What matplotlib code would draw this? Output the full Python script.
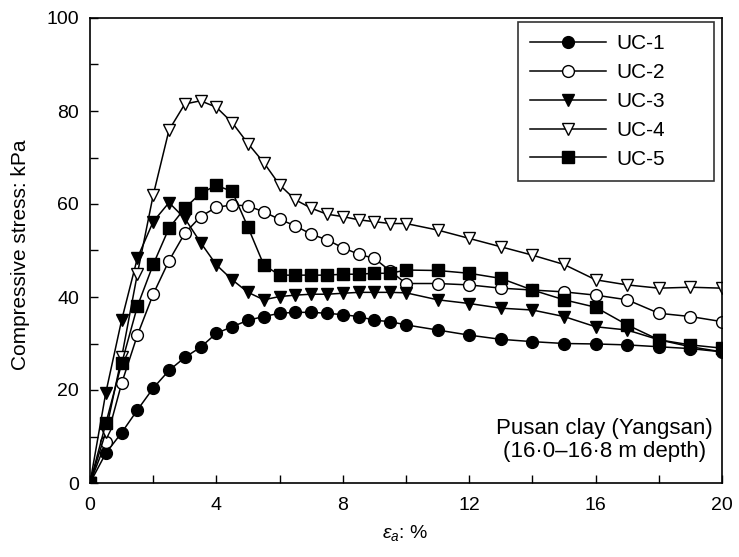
import matplotlib
matplotlib.use("Agg")
import matplotlib.pyplot as plt

plt.rcParams['font.family'] = ['Liberation Sans', 'DejaVu Sans']
plt.rcParams['mathtext.fontset'] = 'custom'
plt.rcParams['mathtext.it'] = 'Liberation Sans:italic'
plt.rcParams['mathtext.rm'] = 'Liberation Sans'

strain_fine = [0, 0.5, 1, 1.5, 2, 2.5, 3, 3.5, 4, 4.5, 5, 5.5, 6, 6.5, 7, 7.5, 8, 8.5, 9, 9.5, 10]
strain_coarse = [11, 12, 13, 14, 15, 16, 17, 18, 19, 20]
strain = strain_fine + strain_coarse

uc1 = [0, 6.4, 10.8, 15.7, 20.4, 24.2, 27.0, 29.2, 32.2, 33.6, 35.0, 35.8, 36.5, 36.7, 36.7, 36.5, 36.2, 35.8, 35.0, 34.7, 34.0,
       32.9, 31.8, 30.9, 30.4, 30.0, 29.9, 29.7, 29.3, 28.9, 28.2]
uc2 = [0, 8.8, 21.4, 31.8, 40.6, 47.8, 53.7, 57.3, 59.3, 59.8, 59.6, 58.3, 56.7, 55.3, 53.5, 52.3, 50.6, 49.2, 48.3, 45.6, 42.9,
       42.9, 42.6, 41.9, 41.5, 41.1, 40.4, 39.4, 36.5, 35.8, 34.7]
uc3 = [0, 19.4, 35.0, 48.4, 56.2, 60.3, 56.9, 51.7, 46.9, 43.7, 41.0, 39.4, 40.1, 40.4, 40.6, 40.6, 40.8, 41.0, 41.0, 41.0, 40.9,
       39.4, 38.6, 37.6, 37.2, 35.8, 33.6, 32.9, 30.8, 29.3, 28.2]
uc4 = [0, 11.0, 27.0, 45.0, 61.9, 75.9, 81.5, 82.2, 80.8, 77.5, 73.0, 68.9, 64.1, 60.9, 59.1, 57.8, 57.3, 56.6, 56.2, 55.8, 55.8,
       54.4, 52.6, 50.8, 49.0, 47.0, 43.7, 42.6, 41.9, 42.1, 41.9]
uc5 = [0, 12.8, 25.7, 38.0, 47.0, 54.8, 59.1, 62.3, 64.0, 62.7, 55.0, 46.9, 44.7, 44.7, 44.7, 44.7, 44.9, 44.9, 45.1, 45.1, 45.8,
       45.7, 45.1, 44.0, 41.5, 39.4, 37.8, 34.0, 30.8, 29.7, 29.0]

labels = ["UC-1", "UC-2", "UC-3", "UC-4", "UC-5"]
series = [uc1, uc2, uc3, uc4, uc5]
markers = ["o", "o", "v", "v", "s"]
faces = ["black", "white", "black", "white", "black"]

fig = plt.figure(figsize=(7.39, 5.57), dpi=100)
ax = fig.add_axes([90/739, (557-483)/557, 632/739, 465/557])

for y, lab, m, fc in zip(series, labels, markers, faces):
    ax.plot(strain, y, color="black", lw=1.1, marker=m, markersize=8.5 if m != "s" else 8,
            markerfacecolor=fc, markeredgecolor="black", markeredgewidth=1.0, label=lab)

ax.set_xlim(0, 20)
ax.set_ylim(0, 100)
ax.set_xticks([0, 4, 8, 12, 16, 20])
ax.set_xticks([2, 6, 10, 14, 18], minor=True)
ax.set_yticks([0, 20, 40, 60, 80, 100])
ax.set_yticks([10, 30, 50, 70, 90], minor=True)
ax.tick_params(which="both", direction="in", labelsize=14, width=1.0)
ax.tick_params(which="major", length=6)
ax.tick_params(which="minor", length=6)
ax.tick_params(axis="x", pad=10)
ax.tick_params(axis="y", pad=8)
for s in ax.spines.values():
    s.set_linewidth(1.2)

ax.set_xlabel(r"$\varepsilon_a$: %", fontsize=14)
ax.xaxis.set_label_coords(0.498, -0.085)
ax.set_ylabel("Compressive stress: kPa", fontsize=15)
ax.yaxis.set_label_coords(-0.095, 0.49)

leg = ax.legend(loc="upper left", bbox_to_anchor=(0.677, 0.5, 0.310, 0.4914), mode="expand",
                fontsize=15, frameon=True, fancybox=False,
                edgecolor="black", handlelength=3.65, borderpad=0.6, labelspacing=0.47,
                handletextpad=0.48, borderaxespad=0.0)
leg.get_frame().set_linewidth(1.2)

ax.text(0.986, 0.092, "Pusan clay (Yangsan)\n(16·0–16·8 m depth)", transform=ax.transAxes,
        ha="right", va="center", multialignment="center", fontsize=16, linespacing=1.15)

fig.savefig("out.png", dpi=100)
